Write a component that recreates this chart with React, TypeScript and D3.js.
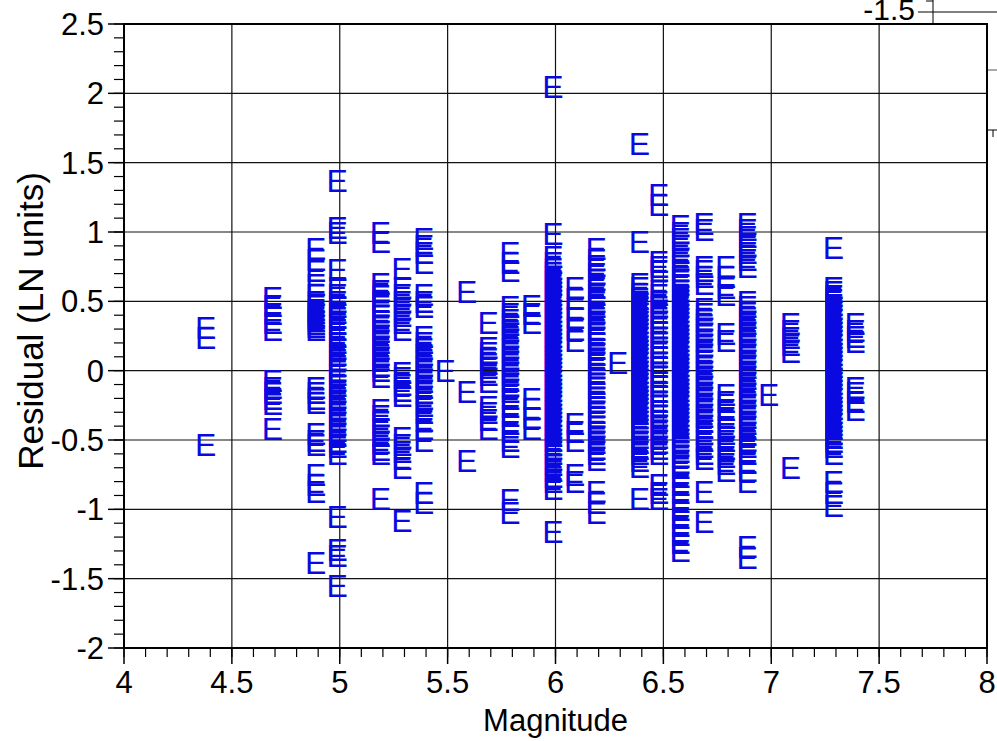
import React from "react";
import * as d3 from "d3";

// ---- data: residual (LN units) per magnitude column ----
const res44 = [0.31, 0.24, -0.53];
const res47 = [0.53, 0.47, 0.41, 0.35, 0.3, -0.07, -0.12, -0.16, -0.2, -0.24, -0.42];
const res49 = [0.88, 0.8, 0.72, 0.62, 0.55, 0.5, 0.47, 0.44, 0.42, 0.4, 0.38, 0.36, 0.34, 0.32, 0.3, -0.12, -0.16, -0.2, -0.23, -0.45, -0.5, -0.53, -0.75, -0.82, -0.87, -1.38];
const res50 = [1.37, 1.03, 1.0, 0.73, 0.6, 0.55, 0.5, 0.46, 0.42, 0.38, 0.34, 0.3, 0.25, 0.2, 0.16, 0.12, 0.08, 0.04, 0.0, -0.03, -0.07, -0.11, -0.15, -0.19, -0.23, -0.27, -0.31, -0.35, -0.39, -0.43, -0.47, -0.51, -0.55, -0.6, -1.05, -1.29, -1.33, -1.55];
const res52 = [1.0, 0.93, 0.63, 0.58, 0.54, 0.5, 0.47, 0.43, 0.4, 0.36, 0.32, 0.28, 0.24, 0.2, 0.16, 0.12, 0.08, 0.04, 0.0, -0.04, -0.28, -0.32, -0.37, -0.42, -0.47, -0.52, -0.57, -0.6, -0.92];
const res53 = [0.74, 0.6, 0.55, 0.5, 0.45, 0.4, 0.35, 0.3, -0.01, -0.05, -0.1, -0.14, -0.18, -0.48, -0.53, -0.58, -0.63, -0.7, -1.08];
const res54 = [0.95, 0.9, 0.85, 0.78, 0.55, 0.5, 0.46, 0.25, 0.2, 0.16, 0.12, 0.08, 0.04, 0.0, -0.04, -0.08, -0.12, -0.16, -0.2, -0.25, -0.3, -0.36, -0.42, -0.5, -0.88, -0.95];
const res55 = [0.0];
const res56 = [0.57, -0.15, -0.65];
const res57 = [0.35, 0.17, 0.13, 0.09, 0.05, 0.02, -0.03, -0.08, -0.26, -0.3, -0.35, -0.42];
const res58 = [0.85, 0.78, 0.72, 0.46, 0.41, 0.37, 0.33, 0.29, 0.25, 0.21, 0.17, 0.13, 0.09, 0.05, 0.01, -0.03, -0.07, -0.11, -0.15, -0.2, -0.26, -0.32, -0.38, -0.44, -0.5, -0.55, -0.93, -1.02];
const res59 = [0.47, 0.41, 0.35, -0.2, -0.27, -0.34, -0.42];
const res60 = [2.05, 0.99, 0.82, 0.78, 0.74, 0.71, 0.68, 0.65, 0.62, 0.58, 0.55, 0.52, 0.49, 0.46, 0.43, 0.4, 0.37, 0.34, 0.31, 0.28, 0.25, 0.22, 0.19, 0.16, 0.13, 0.1, 0.07, 0.04, 0.01, -0.02, -0.05, -0.08, -0.11, -0.14, -0.17, -0.2, -0.23, -0.26, -0.29, -0.32, -0.35, -0.38, -0.41, -0.44, -0.47, -0.5, -0.53, -0.56, -0.6, -0.64, -0.68, -0.72, -0.76, -0.8, -0.85, -1.16];
const res61 = [0.6, 0.52, 0.45, 0.38, 0.3, 0.22, -0.38, -0.44, -0.5, -0.75, -0.8];
const res62 = [0.88, 0.8, 0.76, 0.7, 0.66, 0.6, 0.55, 0.5, 0.46, 0.42, 0.38, 0.34, 0.3, 0.27, 0.23, 0.2, 0.16, 0.12, 0.08, 0.05, 0.02, -0.02, -0.05, -0.09, -0.12, -0.15, -0.19, -0.22, -0.26, -0.3, -0.33, -0.37, -0.4, -0.44, -0.48, -0.52, -0.56, -0.6, -0.64, -0.87, -0.95, -1.02];
const res63 = [0.06];
const res64 = [1.64, 0.93, 0.63, 0.6, 0.56, 0.52, 0.5, 0.47, 0.44, 0.41, 0.38, 0.35, 0.32, 0.29, 0.26, 0.23, 0.2, 0.17, 0.14, 0.11, 0.08, 0.05, 0.02, -0.01, -0.04, -0.07, -0.1, -0.13, -0.16, -0.19, -0.22, -0.25, -0.28, -0.31, -0.34, -0.37, -0.4, -0.44, -0.48, -0.52, -0.56, -0.6, -0.65, -0.69, -0.92];
const res65 = [1.27, 1.2, 0.79, 0.75, 0.72, 0.58, 0.55, 0.5, 0.46, 0.42, 0.38, 0.35, 0.31, 0.28, 0.24, 0.2, 0.17, 0.13, 0.1, 0.06, 0.03, -0.01, -0.04, -0.08, -0.11, -0.15, -0.18, -0.22, -0.25, -0.29, -0.32, -0.36, -0.4, -0.44, -0.48, -0.52, -0.56, -0.6, -0.82, -0.88, -0.92];
const res66 = [1.05, 1.0, 0.95, 0.9, 0.85, 0.8, 0.76, 0.72, 0.68, 0.65, 0.62, 0.58, 0.55, 0.52, 0.49, 0.46, 0.43, 0.4, 0.37, 0.34, 0.31, 0.28, 0.25, 0.22, 0.19, 0.16, 0.13, 0.1, 0.07, 0.04, 0.01, -0.02, -0.05, -0.08, -0.11, -0.14, -0.17, -0.2, -0.23, -0.26, -0.29, -0.32, -0.35, -0.38, -0.41, -0.44, -0.47, -0.5, -0.54, -0.58, -0.62, -0.66, -0.7, -0.76, -0.82, -0.88, -0.94, -1.0, -1.06, -1.12, -1.18, -1.24, -1.3];
const res67 = [1.06, 1.02, 0.75, 0.72, 0.68, 0.63, 0.45, 0.41, 0.37, 0.33, 0.3, 0.26, 0.22, 0.18, 0.14, 0.1, 0.07, 0.03, -0.01, -0.05, -0.09, -0.13, -0.17, -0.21, -0.25, -0.29, -0.33, -0.37, -0.41, -0.45, -0.5, -0.55, -0.6, -0.63, -0.87, -1.09];
const res68 = [0.75, 0.68, 0.6, 0.55, 0.27, 0.22, -0.17, -0.22, -0.28, -0.34, -0.4, -0.45, -0.5, -0.56, -0.62, -0.67, -0.72];
const res69 = [1.06, 1.02, 0.97, 0.9, 0.85, 0.8, 0.75, 0.5, 0.46, 0.42, 0.38, 0.34, 0.3, 0.26, 0.22, 0.18, 0.14, 0.1, 0.06, 0.02, -0.02, -0.06, -0.1, -0.14, -0.18, -0.22, -0.26, -0.3, -0.34, -0.38, -0.42, -0.46, -0.5, -0.55, -0.6, -0.66, -0.72, -0.8, -1.27, -1.35];
const res70 = [-0.17];
const res71 = [0.34, 0.29, 0.24, 0.19, 0.14, -0.7];
const res73 = [0.89, 0.6, 0.57, 0.54, 0.51, 0.48, 0.45, 0.42, 0.39, 0.36, 0.33, 0.3, 0.27, 0.24, 0.21, 0.18, 0.15, 0.12, 0.09, 0.06, 0.03, 0.0, -0.03, -0.06, -0.09, -0.12, -0.15, -0.18, -0.21, -0.24, -0.27, -0.3, -0.33, -0.36, -0.39, -0.42, -0.45, -0.48, -0.51, -0.55, -0.6, -0.8, -0.88, -0.97];
const res74 = [0.34, 0.29, 0.25, 0.21, -0.12, -0.16, -0.22, -0.28];

const magnitudes = [4.39, 4.7, 4.9, 5.0, 5.2, 5.3, 5.4, 5.5, 5.6, 5.7, 5.8, 5.9, 6.0, 6.1, 6.2, 6.3, 6.4, 6.49, 6.59, 6.7, 6.8, 6.9, 7.0, 7.1, 7.3, 7.4];
const residualColumns = [res44, res47, res49, res50, res52, res53, res54, res55, res56, res57, res58, res59, res60, res61, res62, res63, res64, res65, res66, res67, res68, res69, res70, res71, res73, res74];

const xDomain = [4, 8];
const yDomain = [-2, 2.5];
const xTitle = "Magnitude";
const yTitle = "Residual (LN units)";

const FONT = "'Liberation Sans', Arial, Helvetica, sans-serif";

export default function App() {
  const left = 124, right = 987, top = 24, bottom = 648;
  const x = d3.scaleLinear().domain(xDomain).range([left, right]);
  const y = d3.scaleLinear().domain(yDomain).range([bottom, top]);

  const xMajor = x.ticks(8);
  const xMinor = x.ticks(40);
  const yMajor = y.ticks(9);
  const yMinor = y.ticks(45);
  const fmt = (v: number) => (Math.abs(v) < 1e-9 ? "0" : String(+v.toFixed(1)));

  const points: { m: number; r: number }[] = [];
  magnitudes.forEach((m, i) => residualColumns[i].forEach((r) => points.push({ m, r })));

  return (
    <svg width={997} height={741} style={{ position: "absolute", left: 0, top: 0, background: "#fff" }} fontFamily={FONT}>
      <rect x={0} y={0} width={997} height={741} fill="#fff" />
      {/* grid */}
      {xMajor.filter((v) => v > xDomain[0] && v < xDomain[1]).map((v) => (
        <line key={"gx" + v} x1={x(v)} x2={x(v)} y1={top} y2={bottom} stroke="#111" strokeWidth={1.2} />
      ))}
      {yMajor.filter((v) => v > yDomain[0] && v < yDomain[1]).map((v) => (
        <line key={"gy" + v} x1={left} x2={right} y1={y(v)} y2={y(v)} stroke="#111" strokeWidth={1.2} />
      ))}
      {/* minor ticks */}
      {xMinor.map((v) => (
        <line key={"mx" + v} x1={x(v)} x2={x(v)} y1={bottom} y2={bottom + 9} stroke="#000" strokeWidth={1.2} />
      ))}
      {yMinor.map((v) => (
        <line key={"my" + v} x1={left - 10} x2={left} y1={y(v)} y2={y(v)} stroke="#000" strokeWidth={1.2} />
      ))}
      {/* major ticks */}
      {xMajor.map((v) => (
        <line key={"Mx" + v} x1={x(v)} x2={x(v)} y1={bottom} y2={bottom + 16} stroke="#000" strokeWidth={1.5} />
      ))}
      {yMajor.map((v) => (
        <line key={"My" + v} x1={left - 16} x2={left} y1={y(v)} y2={y(v)} stroke="#000" strokeWidth={1.5} />
      ))}
      {/* tick labels */}
      {xMajor.map((v) => (
        <text key={"lx" + v} x={x(v)} y={693} fontSize={31} textAnchor="middle" fill="#000">{fmt(v)}</text>
      ))}
      {yMajor.map((v) => (
        <text key={"ly" + v} x={104} y={y(v) + 11} fontSize={31} textAnchor="end" fill="#000">{fmt(v)}</text>
      ))}
      {/* points */}
      <g opacity={0.995}>
        {points.map((p, i) => (
          <text key={"p" + i} x={x(p.m) - 2.5} y={y(p.r) + 11.5} fontSize={32} textAnchor="middle" fill="#0a0ae0">E</text>
        ))}
      </g>
      {/* frame */}
      <rect x={left} y={top} width={right - left} height={bottom - top} fill="none" stroke="#000" strokeWidth={2} />
      {/* titles */}
      <text x={(left + right) / 2} y={731} fontSize={31} textAnchor="middle" fill="#000">{xTitle}</text>
      <text transform={`translate(43, 321) rotate(-90)`} fontSize={35} textAnchor="middle" fill="#000">{yTitle}</text>
      {/* overlapping fragment of another chart at top right */}
      <text x={915} y={20} fontSize={30} textAnchor="end" fill="#000">-1.5</text>
      <line x1={918} x2={997} y1={12} y2={12} stroke="#000" strokeWidth={1} />
      <line x1={926} x2={933} y1={1} y2={1} stroke="#000" strokeWidth={1} />
      <line x1={933} x2={933} y1={0} y2={24} stroke="#000" strokeWidth={1} />
      <line x1={988} x2={997} y1={70} y2={70} stroke="#555" strokeWidth={1} />
      <line x1={988} x2={997} y1={130} y2={130} stroke="#000" strokeWidth={1} />
      <line x1={993} x2={993} y1={130} y2={137} stroke="#000" strokeWidth={1} />
    </svg>
  );
}
